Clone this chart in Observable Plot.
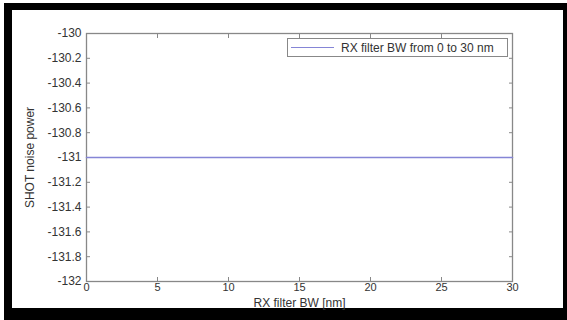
<!DOCTYPE html>
<html>
<head>
<meta charset="utf-8">
<script src="https://cdn.jsdelivr.net/npm/d3@7"></script>
<script src="https://cdn.jsdelivr.net/npm/@observablehq/plot@0.6"></script>
<style>
  html, body { margin: 0; padding: 0; background: #fff; }
  #wrap { position: relative; width: 567px; height: 320px; overflow: hidden; }
  #frame { position: absolute; left: 4px; top: 3px; width: 551px; height: 298px;
    border-left: 8px solid #000; border-top: 7px solid #000; border-right: 4px solid #000; border-bottom: 12px solid #000; background: #fff; }
  #chart { position: absolute; left: 0; top: 0; }
  #legend { position: absolute; left: 287px; top: 38px; width: 219px; height: 17px;
    border: 1px solid #888; background: #fff; font: 12px "Liberation Sans", Arial, sans-serif; color: #333;
    display: flex; align-items: center; box-sizing: content-box; }
  #legend .swatch { width: 43px; height: 1.5px; background: #8585d6; margin-left: 3px; margin-right: 7px; }
</style>
</head>
<body>
<div id="wrap">
  <div id="frame"></div>
  <div id="chart"></div>
  <div id="legend"><span class="swatch"></span><span id="legendText"></span></div>
</div>
<script>
// Data
const bandwidth = [0, 5, 10, 15, 20, 25, 30];           // RX filter BW [nm]
const shotNoise = [-131, -131, -131, -131, -131, -131, -131]; // SHOT noise power
const xTicks = [0, 5, 10, 15, 20, 25, 30];
const yTicks = [-132, -131.8, -131.6, -131.4, -131.2, -131, -130.8, -130.6, -130.4, -130.2, -130];
const seriesName = "RX filter BW from 0 to 30 nm";

const data = bandwidth.map((b, i) => ({bw: b, p: shotNoise[i]}));
const lineColor = "#8585d6";
const axisColor = "#888";

const chart = Plot.plot({
  width: 567,
  height: 320,
  marginLeft: 86,
  marginRight: 55,
  marginTop: 33,
  marginBottom: 39,
  style: {background: "transparent", fontFamily: "'Liberation Sans', Arial, sans-serif", fontSize: "12px", color: "#333"},
  x: {domain: [0, 30]},
  y: {domain: [-132, -130]},
  marks: [
    Plot.frame({stroke: axisColor, strokeWidth: 1.3}),
    // tick labels
    Plot.axisX({ticks: xTicks, anchor: "bottom", tickSize: 0, tickPadding: 2, tickFormat: d => String(d),
      label: null, fill: "#333", fontSize: 11}),
    Plot.axisX({ticks: [], anchor: "bottom", tickSize: 0,
      label: "RX filter BW [nm]", labelAnchor: "center", labelArrow: "none", labelOffset: 25, fill: "#333"}),
    Plot.axisY({ticks: yTicks, anchor: "left", tickSize: 0, tickPadding: 5, tickFormat: d => String(+d.toFixed(1)),
      label: "SHOT noise power", labelAnchor: "center", labelArrow: "none", labelOffset: 61, fill: "#333"}),
    // inward ticks on all four sides
    Plot.axisX({ticks: xTicks, anchor: "bottom", tickSize: 4, dy: -4, text: null, label: null, stroke: axisColor}),
    Plot.axisX({ticks: xTicks, anchor: "top", tickSize: 4, dy: 4, text: null, label: null, stroke: axisColor}),
    Plot.axisY({ticks: yTicks, anchor: "left", tickSize: 4, dx: 4, text: null, label: null, stroke: axisColor}),
    Plot.axisY({ticks: yTicks, anchor: "right", tickSize: 4, dx: -4, text: null, label: null, stroke: axisColor}),
    Plot.line(data, {x: "bw", y: "p", stroke: lineColor, strokeWidth: 1.5})
  ]
});
document.getElementById("chart").appendChild(chart);
document.getElementById("legendText").textContent = seriesName;
</script>
</body>
</html>
